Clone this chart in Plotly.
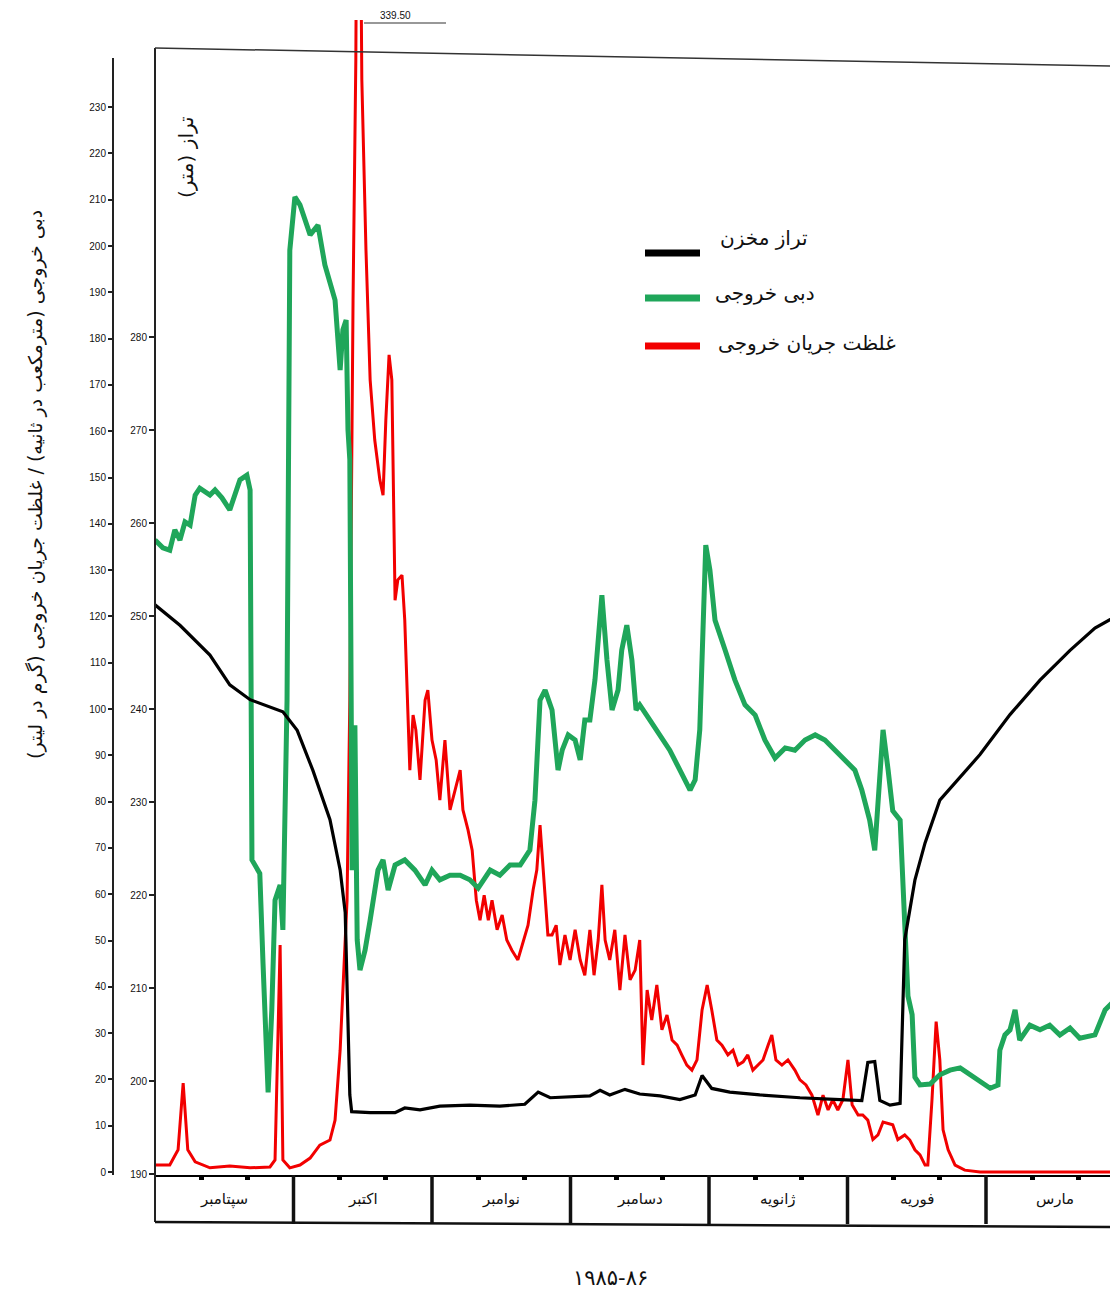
import plotly.graph_objects as go

# ---------------- data (x = day of season, 30 days per month, 0 = 1 September) ----------------
months = ["سپتامبر", "اکتبر", "نوامبر", "دسامبر", "ژانویه", "فوریه", "مارس"]
flow_ticks = list(range(0, 240, 10))
level_ticks = [190, 200, 210, 220, 230, 240, 250, 260, 270, 280]
level_ticktext = ["190", "200", "210", "220", "230", "240", "250", "260", "270", "280"]

level_day = [0, 5.4, 11.9, 16.2, 20.6, 27.7, 30.8, 34.2, 37.9, 40.1,
             41.2, 41.6, 42.2, 42.6, 46.6, 52.0, 54.1, 57.4, 61.7, 68.2,
             74.7, 80.1, 83.0, 85.6, 89.9, 94.2, 96.4, 98.5, 101.8, 105.0,
             109.4, 113.7, 117.0, 118.5, 120.6, 124.5, 131.0, 139.7, 148.4, 153.1,
             154.4, 155.9, 157.0, 159.2, 161.4, 162.4, 164.6, 166.8, 170.0, 178.7,
             185.2, 191.7, 198.2, 203.6, 208.6]
level_m = [251.2, 249.0, 245.8, 242.6, 241.0, 239.7, 237.7, 233.4, 228.1, 222.7,
           218.1, 210.9, 198.5, 196.7, 196.6, 196.6, 197.1, 196.9, 197.3, 197.4,
           197.3, 197.5, 198.8, 198.2, 198.3, 198.4, 199.0, 198.5, 199.1, 198.6,
           198.4, 198.0, 198.5, 200.6, 199.2, 198.8, 198.5, 198.2, 198.0, 197.9,
           202.0, 202.1, 197.9, 197.4, 197.6, 215.2, 221.6, 225.6, 230.2, 235.1,
           239.4, 243.1, 246.3, 248.7, 250.1]

flow_day = [0.0, 1.7, 3.2, 4.3, 5.4, 6.5, 7.6, 8.7, 9.7, 11.9,
            13.0, 14.5, 16.2, 17.3, 18.4, 19.9, 20.6, 21.0, 21.7, 22.7,
            23.4, 24.0, 24.5, 25.3, 26.0, 27.1, 27.7, 28.6, 29.2, 30.3,
            31.4, 33.6, 35.3, 36.8, 39.0, 40.1, 40.7, 41.4, 41.8, 42.2,
            42.7, 43.3, 43.8, 44.4, 45.5, 46.6, 48.3, 49.4, 50.5, 52.0,
            54.1, 56.3, 58.5, 60.0, 61.7, 63.9, 66.1, 68.2, 70.0, 72.6,
            74.7, 76.9, 79.1, 81.2, 82.3, 83.4, 84.5, 86.0, 87.3, 88.2,
            89.5, 91.0, 92.1, 93.1, 94.2, 95.3, 96.8, 97.9, 99.0, 100.3,
            101.1, 102.2, 103.3, 104.2, 105.0, 107.2, 109.4, 111.5, 113.7, 115.9,
            117.0, 118.0, 118.7, 119.3, 120.2, 121.3, 123.5, 125.6, 127.8, 130.0,
            132.1, 134.3, 136.5, 138.6, 140.8, 143.0, 145.1, 147.3, 149.4, 151.6,
            153.1, 154.8, 155.9, 156.6, 157.7, 158.8, 159.8, 161.4, 162.4, 163.1,
            164.0, 164.6, 165.7, 167.9, 170.0, 172.2, 174.4, 176.5, 178.7, 180.9,
            182.6, 183.0, 184.1, 185.2, 186.3, 187.3, 189.5, 191.7, 193.8, 196.0,
            198.2, 200.3, 203.6, 205.8, 207.9]
flow_m3s = [136.5, 134.8, 134.3, 138.7, 136.5, 140.4, 139.7, 146.2, 147.7, 146.2,
            147.3, 145.6, 143.0, 146.2, 149.5, 150.5, 147.3, 67.4, 66.0, 64.5,
            45.0, 30.0, 17.2, 35.0, 58.7, 62.0, 52.3, 101.9, 199.1, 210.6,
            208.9, 202.4, 204.5, 195.9, 188.3, 173.2, 181.9, 184.0, 160.3, 153.8,
            65.2, 96.5, 50.1, 43.6, 47.9, 54.4, 65.2, 67.4, 60.9, 66.3,
            67.4, 65.2, 62.0, 65.2, 63.1, 64.1, 64.1, 63.1, 61.3, 65.2,
            64.1, 66.3, 66.3, 69.5, 80.3, 101.9, 104.1, 99.8, 86.8, 91.1,
            94.4, 93.3, 89.0, 97.6, 97.6, 106.3, 124.6, 110.6, 99.8, 104.1,
            112.7, 118.1, 110.6, 99.8, 100.9, 97.6, 94.4, 91.1, 86.8, 82.5,
            84.7, 95.5, 117.1, 135.4, 130.0, 119.2, 112.7, 106.3, 100.9, 98.7,
            93.3, 89.4, 91.6, 91.1, 93.3, 94.4, 93.3, 91.1, 89.0, 86.8,
            82.5, 76.0, 69.5, 80.3, 95.5, 86.8, 78.0, 76.0, 50.1, 38.0,
            34.0, 20.5, 18.8, 19.0, 21.0, 22.0, 22.5, 21.0, 19.4, 18.1,
            18.8, 26.3, 29.6, 30.7, 35.0, 28.5, 31.7, 30.7, 31.7, 29.6,
            31.1, 28.9, 29.6, 35.0, 37.1]

conc_day = [0.0, 3.2, 5.0, 6.1, 7.1, 8.7, 11.9, 16.2, 20.6, 24.9,
            26.0, 27.1, 27.7, 29.2, 31.4, 33.6, 35.7, 37.9, 39.0, 40.1,
            40.7, 41.6, 42.2, 42.9, 43.5, 44.0, 44.8, 45.7, 46.6, 47.6,
            48.7, 49.4, 50.0, 50.7, 51.3, 52.0, 52.6, 53.5, 54.1, 54.8,
            55.2, 55.9, 56.5, 57.4, 58.5, 59.1, 60.0, 60.9, 61.7, 62.8,
            63.9, 65.0, 66.1, 66.7, 67.8, 68.7, 69.6, 70.4, 71.3, 72.2,
            73.0, 74.1, 75.2, 76.2, 77.3, 78.6, 79.5, 80.8, 81.9, 82.7,
            83.4, 84.1, 85.1, 86.0, 86.9, 87.7, 88.8, 89.9, 91.0, 92.1,
            93.1, 94.2, 95.1, 96.0, 96.8, 97.5, 98.5, 99.6, 100.7, 101.8,
            102.9, 104.0, 105.0, 105.7, 106.6, 107.6, 108.7, 109.8, 110.9, 112.0,
            113.1, 114.1, 115.2, 116.3, 117.4, 118.5, 119.6, 120.6, 121.7, 122.8,
            124.1, 125.2, 126.3, 127.4, 128.4, 129.5, 130.6, 131.7, 132.8, 133.6,
            134.5, 135.8, 137.1, 138.6, 139.7, 141.0, 142.3, 143.6, 144.7, 145.8,
            146.8, 147.9, 149.0, 150.1, 151.0, 152.3, 153.3, 154.4, 155.5, 156.6,
            157.7, 158.8, 159.8, 160.9, 162.4, 163.5, 164.6, 165.7, 166.8, 167.4,
            168.3, 169.2, 170.0, 170.7, 171.8, 173.3, 175.4, 178.7, 183.0, 208.6]
conc_gl = [1.5, 1.5, 4.8, 19.2, 4.8, 2.2, 0.9, 1.3, 0.9, 1.1,
           2.6, 49.0, 2.6, 0.9, 1.5, 3.0, 5.8, 6.9, 11.2, 26.3,
           39.3, 58.7, 101.9, 188.3, 240.2, 339.5, 235.9, 199.1, 171.1, 158.1,
           149.5, 146.2, 162.4, 176.5, 171.1, 123.5, 127.9, 128.9, 119.2, 99.8,
           86.8, 98.7, 95.5, 84.7, 101.9, 104.1, 93.3, 89.0, 80.3, 93.3,
           78.2, 82.5, 86.8, 78.2, 73.9, 69.5, 58.7, 54.4, 59.8, 54.4,
           58.7, 52.3, 55.5, 50.1, 47.9, 45.8, 49.0, 53.3, 60.9, 65.2,
           74.9, 65.2, 51.2, 51.2, 53.3, 44.7, 51.2, 45.8, 52.3, 45.8,
           42.5, 52.3, 42.5, 50.1, 62.0, 50.1, 45.8, 52.3, 39.3, 51.2,
           41.5, 43.6, 50.1, 23.1, 39.3, 32.8, 40.4, 30.7, 33.9, 28.5,
           27.4, 25.3, 23.1, 22.0, 24.2, 35.0, 40.4, 35.0, 28.5, 27.4,
           25.3, 26.3, 23.1, 23.8, 25.3, 22.0, 23.1, 24.2, 27.4, 29.6,
           24.2, 23.1, 24.2, 22.0, 19.9, 18.8, 16.6, 12.3, 16.6, 13.4,
           15.6, 13.4, 15.6, 24.2, 14.5, 12.3, 12.3, 11.2, 7.0, 8.0,
           10.8, 10.5, 10.2, 7.0, 8.0, 6.9, 4.8, 3.7, 1.5, 1.5,
           15.6, 32.5, 24.2, 9.1, 4.8, 1.5, 0.4, 0.0, 0.0, 0.0]

peak_label = "339.50"
series_names = ["تراز مخزن", "دبی خروجی", "غلظت جریان خروجی"]
colors = ["#000000", "#1fa65a", "#f20000"]

# ---------------- layout geometry (page pixels; the page body adds an 8px offset) ----------------
W, H = 1102, 1285
BODY = 8
PAGE_L, PAGE_R, PAGE_T, PAGE_B = 60, BODY + W, 20, 1175   # paper area in page pixels
PW, PH = PAGE_R - PAGE_L, PAGE_B - PAGE_T
PX_PER_DAY = 138.5 / 30
def px(x):
    return (x - PAGE_L) / PW
def py(y):
    return (PAGE_B - y) / PH

RLM = "\u200f"
fig = go.Figure()

fig.add_trace(go.Scatter(x=conc_day, y=conc_gl, mode="lines", name=series_names[2],
                         line=dict(color=colors[2], width=3), yaxis="y"))
fig.add_trace(go.Scatter(x=flow_day, y=flow_m3s, mode="lines", name=series_names[1],
                         line=dict(color=colors[1], width=5), yaxis="y"))
fig.add_trace(go.Scatter(x=level_day, y=level_m, mode="lines", name=series_names[0],
                         line=dict(color=colors[0], width=3.2), yaxis="y2"))

month_len = 30
n_months = len(months)
x_max = (PAGE_R - 155) / PX_PER_DAY
tick_days = [m * month_len + k for m in range(n_months) for k in (10, 20) if m * month_len + k < x_max]

tickfont = dict(family="Liberation Sans", size=10, color="#111")
fig.update_layout(
    width=W, height=H,
    margin=dict(l=PAGE_L - BODY, r=0, t=PAGE_T - BODY, b=H - (PAGE_B - BODY)),
    paper_bgcolor="white", plot_bgcolor="white",
    showlegend=False,
    xaxis=dict(domain=[px(155), 1], range=[0, x_max], showgrid=False, zeroline=False,
               showline=True, linecolor="black", linewidth=2,
               tickvals=tick_days, ticks="outside", ticklen=3, tickwidth=5, tickcolor="black",
               showticklabels=False),
    yaxis=dict(anchor="free", position=px(113), side="left",
               range=[(1172 - 1175) / 4.63, (1172 - 20) / 4.63],
               tickvals=flow_ticks, ticks="outside", ticklen=5, tickwidth=1.5, tickcolor="#222",
               tickfont=tickfont, showgrid=False, zeroline=False, showline=False),
    yaxis2=dict(overlaying="y", anchor="x", side="left",
                range=[280 - (1175 - 337) / 9.3, 280 + (337 - 20) / 9.3],
                tickvals=level_ticks, ticktext=level_ticktext, ticks="outside", ticklen=5,
                tickwidth=1.5, tickcolor="#222", tickfont=tickfont,
                showgrid=False, zeroline=False, showline=False),
)

shapes = []
shapes.append(dict(type="line", xref="paper", yref="paper", x0=px(113), x1=px(113),
                   y0=py(58), y1=py(1175), line=dict(color="#222", width=2)))
shapes.append(dict(type="line", xref="paper", yref="paper", x0=px(155), x1=px(155),
                   y0=py(48), y1=py(1222), line=dict(color="#222", width=2)))
shapes.append(dict(type="line", xref="paper", yref="paper", x0=px(155), x1=1,
                   y0=py(48), y1=py(66), line=dict(color="#333", width=1.5)))
shapes.append(dict(type="line", xref="paper", yref="paper", x0=px(155), x1=1,
                   y0=py(1222), y1=py(1227), line=dict(color="#111", width=2.5)))
for m in range(1, n_months):
    shapes.append(dict(type="line", xref="x", yref="paper", x0=m * month_len, x1=m * month_len,
                       y0=py(1175), y1=py(1224), line=dict(color="#111", width=3.5)))
for yy, c in zip([253, 298, 346], colors):
    shapes.append(dict(type="line", xref="paper", yref="paper", x0=px(645), x1=px(700),
                       y0=py(yy), y1=py(yy), line=dict(color=c, width=7)))
shapes.append(dict(type="line", xref="paper", yref="paper", x0=px(364), x1=px(446),
                   y0=py(23), y1=py(23), line=dict(color="#333", width=1.2)))
fig.update_layout(shapes=shapes)

ann = []
arfont = "DejaVu Sans"
def note(text, x, y, size, family=arfont, xanchor="center", angle=0, xref="paper"):
    return dict(xref=xref, yref="paper", x=x, y=y, text=text, showarrow=False,
                xanchor=xanchor, yanchor="middle", textangle=angle,
                font=dict(family=family, size=size, color="#111"))
for i, name in enumerate(months):
    ann.append(note(name + RLM, i * month_len + month_len / 2, py(1199), 15, xref="x"))
for yy, xx, name in zip([238, 293, 343], [718, 713, 716], series_names):
    ann.append(note(name + RLM, px(xx), py(yy), 20, xanchor="left"))
ann.append(note(RLM + "دبی خروجی (مترمکعب در ثانیه) / غلظت جریان خروجی (گرم در لیتر)" + RLM,
                px(35), py(485), 19, angle=-90))
ann.append(note(RLM + "تراز (متر)" + RLM, px(186), py(157), 20, angle=-90))
ann.append(note(peak_label, px(395), py(15), 10, family="Liberation Sans"))
ann.append(note("۱۹۸۵-۸۶", px(610), py(1278), 21))
fig.update_layout(annotations=ann)

fig.write_html("out.html")
